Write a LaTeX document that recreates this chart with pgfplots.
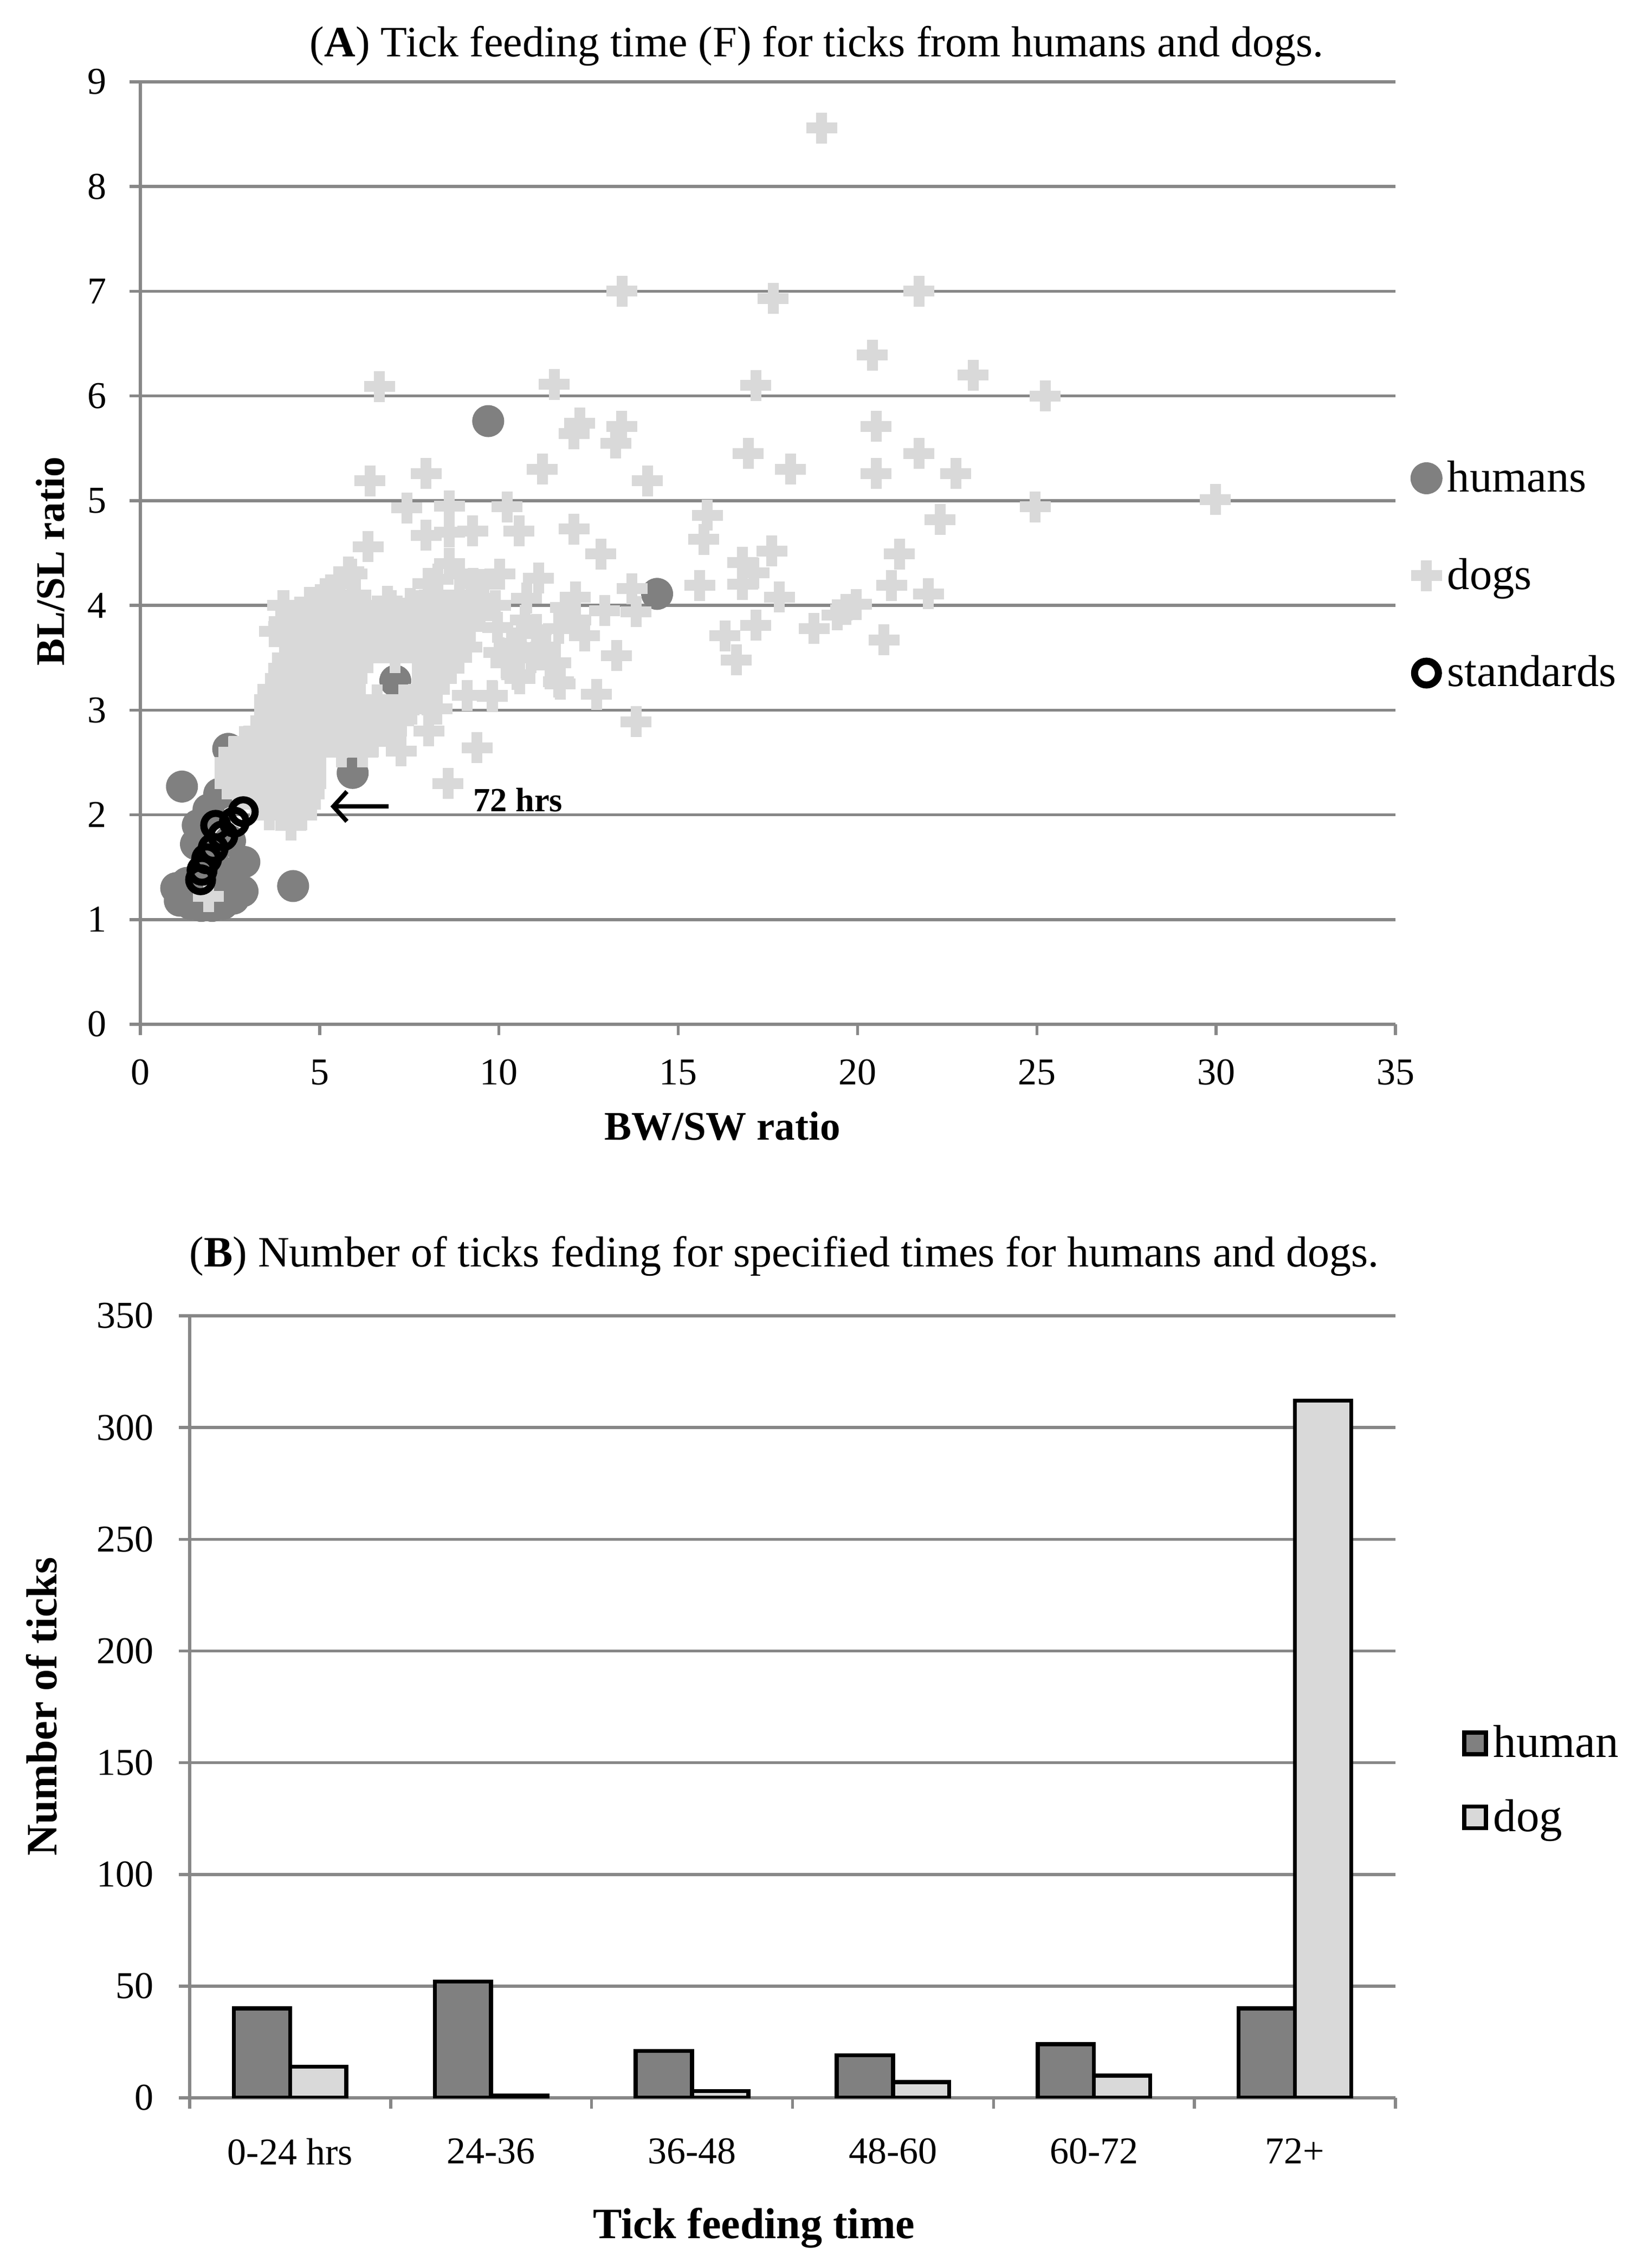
\documentclass[border=0pt]{standalone}
\usepackage{fontspec}
\setmainfont{Liberation Serif}
\usepackage{pgfplots}
\pgfplotsset{compat=1.18}
\usetikzlibrary{arrows.meta}
\definecolor{gridgray}{HTML}{878787}
\definecolor{hum}{HTML}{808080}
\definecolor{dogc}{HTML}{D9D9D9}
\begin{document}
\begin{tikzpicture}[font=\fontsize{15}{18}\selectfont]
\useasboundingbox (0,0) rectangle (605.8pt,-837pt);
% ---------------- (A) scatter ----------------
\begin{axis}[
  scale only axis, at={(51.8pt,-378pt)}, anchor=south west,
  width=463.2pt, height=347.8pt,
  xmin=0, xmax=35, ymin=0, ymax=9,
  xtick={0,5,...,35}, ytick={0,1,...,9},
  axis x line*=bottom, axis y line*=left,
  axis line style={gridgray, line width=1.1pt, -},
  tick style={gridgray, line width=1.1pt},
  tick align=outside, major tick length=4pt,
  ymajorgrids, grid style={gridgray, line width=1.1pt},
  /pgf/number format/assume math mode=true,
  tick label style={font=\fontsize{14}{16}\selectfont, black},
  yticklabel style={xshift=-4.9pt},
  xticklabel style={yshift=-5.5pt},
  xlabel={\textbf{BW/SW ratio}}, ylabel={\textbf{BL/SL ratio}},
  label style={font=\fontsize{15}{18}\selectfont},
  xlabel style={at={(axis description cs:0.4637,-0.108)}, anchor=center},
  ylabel style={at={(axis description cs:-0.0717,0.491)}, anchor=center},
  clip=false,
  legend image code/.code={\draw[#1] plot coordinates {(0pt,0pt)};},
  legend style={draw=none, fill=none, at={(axis description cs:1.012,0.476)}, anchor=west,
    font=\fontsize{16.5}{19}\selectfont, row sep=19pt, inner sep=0pt, cells={anchor=west}},
]
\addplot[hum, only marks, mark=*, mark size=5.7pt, mark options={fill=hum, draw=hum, line width=0.4pt}] coordinates {
(1.16,2.27) (4.26,1.32) (5.92,2.40) (7.11,3.28) (3.95,3.14) (2.45,2.63) (2.2,2.2)
(2.9,1.55) (1.6,1.9) (1.55,1.72) (1.0,1.3) (1.1,1.18) (1.4,1.15) (1.7,1.13) (2.0,1.13)
(2.3,1.15) (2.6,1.2) (2.85,1.27) (1.3,1.35) (2.6,1.45) (2.2,1.35) (9.7,5.76) (14.41,4.11)
(5.03,3.86) (7.42,3.86) (2.0,1.6) (1.8,1.45) (2.5,1.75) (1.9,2.05)
};
\addlegendentry{humans}
\addplot[dogc, only marks, mark=+, mark size=5.7pt, line width=4pt] coordinates {
(19.0,8.56) (13.43,7.0) (17.65,6.93) (21.71,7.0) (20.41,6.39) (23.22,6.20) (11.54,6.11)
(17.16,6.10) (25.23,6.0) (12.25,5.74) (12.09,5.64) (13.42,5.71) (13.26,5.55) (11.21,5.30)
(16.95,5.45) (18.13,5.30) (20.52,5.71) (20.52,5.26) (21.71,5.45) (22.74,5.26) (14.14,5.19)
(10.23,4.94) (10.56,4.71) (12.09,4.73) (12.84,4.49) (15.81,4.86) (15.71,4.63) (24.95,4.94)
(29.98,5.01) (22.30,4.82) (17.61,4.52) (21.17,4.49) (16.79,4.41) (17.11,4.31) (16.79,4.20)
(15.6,4.19) (17.82,4.08) (20.95,4.19) (21.98,4.11) (10.02,4.30) (11.1,4.26) (10.77,4.07)
(12.13,4.08) (11.85,3.98) (12.95,3.95) (13.71,4.16) (13.82,3.94) (19.67,3.96) (19.97,4.01)
(19.43,3.91) (18.79,3.78) (20.74,3.67) (17.16,3.81) (16.3,3.71) (16.62,3.48) (10.63,3.73)
(10.36,3.60) (11.04,3.77) (9.96,3.79) (12.14,3.86) (12.39,3.71) (13.28,3.52) (11.58,3.45)
(11.71,3.25) (10.5,3.34) (12.72,3.15) (13.82,2.89) (9.82,3.13)
(6.67,6.09) (6.40,5.19) (7.97,5.26) (7.43,4.93) (8.62,4.95) (8.62,4.70) (7.97,4.67)
(9.27,4.71) (6.35,4.56) (8.62,4.40) (5.81,4.32) (5.56,4.21) (5.15,4.11) (3.97,4.00)
(4.72,4.03) (6.89,4.04) (7.52,4.02) (8.02,4.21) (9.28,4.21) (9.48,4.07) (3.74,3.75)
(10.73,3.86) (11.66,3.78) (10.35,3.64) (11.43,3.43) (11.66,3.27) (10.58,3.30) (9.12,3.14)
(9.81,3.14) (9.39,2.64) (8.58,2.30) (7.27,2.61) (8.04,2.80) (8.27,3.01) (7.57,3.01) (1.9,1.22)
(8.3,4.25) (8.9,4.3) (9.5,4.2) (5.3,4.15) (5.9,4.3) (10.2,3.45) (10.9,3.5) (11.3,3.6) (10.0,3.55) (9.9,4.0)
(5.4,4.1) (6.0,4.1) (8.2,4.1) (8.9,4.1) (9.3,4.1)
(4.0,4.0) (4.75,4.0) (5.5,4.0) (6.25,4.0) (7.0,4.0) (7.75,4.0) (8.5,4.0) (9.2,4.0)
(4.2,3.9) (4.95,3.9) (5.7,3.9) (6.45,3.9) (7.2,3.9) (7.95,3.9) (8.7,3.9) (9.4,3.9)
(4.0,3.8) (4.75,3.8) (5.5,3.8) (6.25,3.8) (7.0,3.8) (7.75,3.8) (8.5,3.8) (9.2,3.8)
(4.3,3.7) (5.05,3.7) (5.8,3.7) (6.55,3.7) (7.3,3.7) (8.05,3.7) (8.8,3.7)
(4.3,3.6) (5.05,3.6) (5.8,3.6) (6.55,3.6) (7.3,3.6) (8.05,3.6) (8.8,3.6) (9.1,3.6)
(4.1,3.5) (4.85,3.5) (5.6,3.5) (6.35,3.5) (7.1,3.5) (7.85,3.5) (8.6,3.5)
(4.0,3.4) (4.75,3.4) (5.5,3.4) (5.9,3.4) (8.0,3.4) (8.6,3.4)
(3.9,3.3) (4.65,3.3) (5.4,3.3) (5.9,3.3) (8.0,3.3) (8.4,3.3)
(3.7,3.2) (4.45,3.2) (5.2,3.2) (5.85,3.2) (7.9,3.2) (8.2,3.2)
(3.6,3.1) (4.35,3.1) (5.1,3.1) (5.85,3.1) (6.6,3.1) (7.35,3.1) (8.0,3.1)
(3.6,3.0) (4.35,3.0) (5.1,3.0) (5.85,3.0) (6.6,3.0) (7.35,3.0)
(3.5,2.9) (4.25,2.9) (5.0,2.9) (5.75,2.9) (6.5,2.9) (7.2,2.9)
(3.3,2.8) (4.05,2.8) (4.8,2.8) (5.55,2.8) (6.3,2.8) (7.0,2.8)
(2.9,2.7) (3.65,2.7) (4.4,2.7) (5.15,2.7) (5.9,2.7) (6.5,2.7)
(2.6,2.6) (3.35,2.6) (4.1,2.6) (4.85,2.6) (5.6,2.6) (6.2,2.6)
(2.5,2.5) (3.25,2.5) (4.0,2.5) (4.75,2.5)
(2.5,2.4) (3.25,2.4) (4.0,2.4) (4.75,2.4)
(2.5,2.3) (3.25,2.3) (4.0,2.3) (4.75,2.3)
(2.7,2.2) (3.45,2.2) (4.2,2.2) (4.7,2.2)
(3.2,2.1) (3.95,2.1) (4.6,2.1)
(3.6,2.0) (4.3,2.0) (4.5,2.0)
(4.2,1.9)
};
\addlegendentry{dogs}
\addplot[black, only marks, mark=o, mark size=4.4pt, line width=2.6pt] coordinates {
(2.87,2.03) (2.62,1.93) (2.10,1.90) (2.30,1.80) (2.03,1.68) (1.85,1.58) (1.72,1.47) (1.68,1.38)
};
\addlegendentry{standards}
\draw[-{Straight Barb[length=5pt,width=11pt,line width=1.6pt]}, line width=1.6pt, black] (axis cs:6.92,2.08) -- (axis cs:5.3,2.08);
\node[anchor=base, font=\bfseries\fontsize{12.5}{14}\selectfont] at (axis cs:10.53,2.03) {72 hrs};
\end{axis}
% ---------------- (B) bars ----------------
\begin{axis}[
  scale only axis, at={(70pt,-774.2pt)}, anchor=south west,
  width=445pt, height=288.6pt,
  xmin=-0.5, xmax=5.5, ymin=0, ymax=350,
  ytick={0,50,...,350},
  xtick={0,1,2,3,4,5},
  xticklabels={0-24 hrs,24-36,36-48,48-60,60-72,72+},
  minor xtick={-0.5,0.5,1.5,2.5,3.5,4.5,5.5},
  every major x tick/.append style={draw=none},
  axis x line*=bottom, axis y line*=left,
  axis line style={gridgray, line width=1.1pt, -},
  tick style={gridgray, line width=1.1pt},
  tick align=outside, major tick length=4pt, minor tick length=4pt,
  ymajorgrids, grid style={gridgray, line width=1.1pt},
  /pgf/number format/assume math mode=true,
  tick label style={font=\fontsize{14}{16}\selectfont, black},
  yticklabel style={xshift=-5.7pt},
  xticklabel style={yshift=-7.4pt},
  xlabel={\textbf{Tick feeding time}}, ylabel={\textbf{Number of ticks}},
  label style={font=\fontsize{16}{19}\selectfont},
  xlabel style={at={(axis description cs:0.468,-0.1663)}, anchor=center},
  ylabel style={at={(axis description cs:-0.1227,0.5003)}, anchor=center},
  ybar, bar width=0.28,
  legend image code/.code={\draw[#1] (0pt,-4pt) rectangle (8pt,4pt);},
  legend style={draw=none, fill=none, at={(axis description cs:1.055,0.406)}, anchor=west,
    font=\fontsize{17}{20}\selectfont, row sep=10pt, inner sep=0pt, cells={anchor=west}},
]
\addplot[fill=hum, draw=black, line width=1.5pt, bar shift=-0.14] coordinates {(0,40) (1,52) (2,21) (3,19) (4,24) (5,40)};
\addlegendentry{human}
\addplot[fill=dogc, draw=black, line width=1.5pt, bar shift=0.14] coordinates {(0,14) (1,1) (2,3) (3,7) (4,10) (5,312)};
\addlegendentry{dog}
\end{axis}
\node[anchor=base, font=\fontsize{16}{19}\selectfont] at (301.4pt,-21pt) {(\textbf{A}) Tick feeding time (F) for ticks from humans and dogs.};
\node[anchor=base, font=\fontsize{16}{19}\selectfont] at (289.4pt,-467.5pt) {(\textbf{B}) Number of ticks feding for specified times for humans and dogs.};
\end{tikzpicture}
\end{document}
